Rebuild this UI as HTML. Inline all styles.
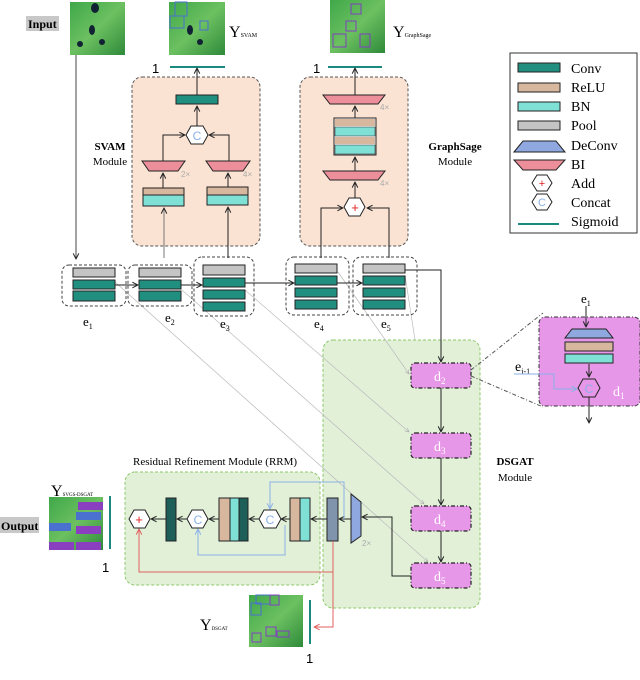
<!DOCTYPE html>
<html><head><meta charset="utf-8"><style>
html,body{margin:0;padding:0;background:#fff;}
svg{display:block;font-family:"Liberation Serif",serif;}
</style></head><body>
<svg width="640" height="680" viewBox="0 0 640 680" xmlns="http://www.w3.org/2000/svg">
<defs>
<marker id="a" viewBox="0 0 10 10" refX="9" refY="5" markerWidth="7" markerHeight="7" orient="auto-start-reverse"><path d="M1,1 L9,5 L1,9" fill="none" stroke="#222" stroke-width="1.4"/></marker>
<marker id="g" viewBox="0 0 10 10" refX="9" refY="5" markerWidth="7" markerHeight="7" orient="auto"><path d="M1,1 L9,5 L1,9" fill="none" stroke="#aaa" stroke-width="1.2"/></marker>
<marker id="r" viewBox="0 0 10 10" refX="9" refY="5" markerWidth="7" markerHeight="7" orient="auto"><path d="M1,1 L9,5 L1,9" fill="none" stroke="#e06060" stroke-width="1.4"/></marker>
<marker id="b" viewBox="0 0 10 10" refX="9" refY="5" markerWidth="7" markerHeight="7" orient="auto"><path d="M1,1 L9,5 L1,9" fill="none" stroke="#8ab0e8" stroke-width="1.4"/></marker>
<linearGradient id="img" x1="0" y1="0" x2="1" y2="1"><stop offset="0" stop-color="#3fa84a"/><stop offset="0.5" stop-color="#6cc060"/><stop offset="1" stop-color="#2e8a3a"/></linearGradient>
</defs>

<!-- module backgrounds -->
<rect x="132" y="77" width="128" height="169" rx="10" fill="#fbe3d3" stroke="#555" stroke-dasharray="3,2"/>
<rect x="300" y="77" width="108" height="169" rx="10" fill="#fbe3d3" stroke="#555" stroke-dasharray="3,2"/>
<rect x="323" y="340" width="157" height="268" rx="10" fill="#e2f0d8" stroke="#8cc86a" stroke-dasharray="3,2"/>
<rect x="125" y="472" width="195" height="113" rx="10" fill="#e2f0d8" stroke="#8cc86a" stroke-dasharray="3,2"/>

<!-- images -->
<rect x="70" y="2" width="55" height="53" fill="url(#img)"/>
<ellipse cx="95" cy="8" rx="4" ry="5" fill="#123"/><ellipse cx="92" cy="30" rx="3" ry="5" fill="#123"/><ellipse cx="102" cy="42" rx="3" ry="3" fill="#123"/><ellipse cx="80" cy="44" rx="3" ry="3" fill="#123"/>
<rect x="169" y="2" width="56" height="53" fill="url(#img)"/>
<rect x="175" y="2" width="12" height="14" fill="none" stroke="#4a70d0"/><rect x="170" y="16" width="14" height="12" fill="none" stroke="#4a70d0"/><rect x="200" y="21" width="8" height="9" fill="none" stroke="#4a70d0"/>
<ellipse cx="190" cy="30" rx="3" ry="5" fill="#123"/><ellipse cx="200" cy="42" rx="3" ry="3" fill="#123"/>
<rect x="330" y="0" width="55" height="53" fill="url(#img)"/>
<rect x="351" y="4" width="10" height="10" fill="none" stroke="#8040c0"/><rect x="346" y="21" width="10" height="10" fill="none" stroke="#8040c0"/><rect x="333" y="34" width="13" height="13" fill="none" stroke="#8040c0"/><rect x="360" y="34" width="10" height="13" fill="none" stroke="#8040c0"/>
<rect x="49" y="497" width="54" height="53" fill="url(#img)"/>
<rect x="78" y="502" width="25" height="8" fill="#8a3fc0"/><rect x="76" y="512" width="25" height="8" fill="#4a70d0"/><rect x="49" y="523" width="22" height="8" fill="#4a70d0"/><rect x="76" y="526" width="25" height="8" fill="#8a3fc0"/><rect x="49" y="542" width="25" height="8" fill="#8a3fc0"/><rect x="76" y="542" width="25" height="8" fill="#8a3fc0"/>
<rect x="249" y="595" width="54" height="52" fill="url(#img)"/>
<rect x="256" y="595" width="14" height="9" fill="none" stroke="#4a70d0"/><rect x="270" y="595" width="9" height="10" fill="none" stroke="#8040c0"/><rect x="251" y="603" width="10" height="12" fill="none" stroke="#4a70d0"/><rect x="252" y="633" width="9" height="9" fill="none" stroke="#8040c0"/><rect x="266" y="627" width="10" height="9" fill="none" stroke="#8040c0"/><rect x="277" y="631" width="12" height="6" fill="none" stroke="#8040c0"/>

<!-- labels top -->
<rect x="26" y="16" width="33" height="15" fill="#c8c8c8"/>
<text x="28" y="28" font-size="12" font-weight="bold">Input</text>
<text x="229" y="37" font-size="16">Y<tspan font-size="6">SVAM</tspan></text>
<text x="393" y="37" font-size="16">Y<tspan font-size="6">GraphSage</tspan></text>
<text x="152" y="73" font-family="Liberation Sans" font-size="13">1</text>
<line x1="170" y1="67" x2="225" y2="67" stroke="#1a8a80" stroke-width="2"/>
<text x="313" y="73" font-family="Liberation Sans" font-size="13">1</text>
<line x1="328" y1="67" x2="382" y2="67" stroke="#1a8a80" stroke-width="2"/>
<text x="110" y="150" font-size="11" font-weight="bold" text-anchor="middle">SVAM</text>
<text x="110" y="165" font-size="11" text-anchor="middle">Module</text>
<text x="455" y="150" font-size="11" font-weight="bold" text-anchor="middle">GraphSage</text>
<text x="455" y="165" font-size="11" text-anchor="middle">Module</text>
<text x="515" y="465" font-size="11" font-weight="bold" text-anchor="middle">DSGAT</text>
<text x="515" y="481" font-size="11" text-anchor="middle">Module</text>

<!-- legend -->
<rect x="510" y="53" width="127" height="180" fill="#fff" stroke="#333"/>
<g font-size="14">
<rect x="518" y="63" width="42" height="9" fill="#218f80" stroke="#222"/><text x="571" y="73">Conv</text>
<rect x="518" y="83" width="42" height="9" fill="#d7b89e" stroke="#222"/><text x="571" y="92">ReLU</text>
<rect x="518" y="102" width="42" height="9" fill="#7fe0d6" stroke="#222"/><text x="571" y="111">BN</text>
<rect x="518" y="121" width="42" height="9" fill="#c4c4c4" stroke="#222"/><text x="571" y="130">Pool</text>
<path d="M514,152 L523,141 L556,141 L565,152 Z" fill="#8fa8e0" stroke="#222"/><text x="571" y="150">DeConv</text>
<path d="M514,160 L565,160 L556,170 L523,170 Z" fill="#ec8f9a" stroke="#222"/><text x="571" y="169">BI</text>
<path d="M532,183 L537,175 L547,175 L552,183 L547,191 L537,191 Z" fill="#fff" stroke="#222"/><text x="542" y="187" fill="#e02020" font-size="11" text-anchor="middle" font-family="Liberation Sans">+</text><text x="571" y="188">Add</text>
<path d="M532,202 L537,194 L547,194 L552,202 L547,210 L537,210 Z" fill="#fff" stroke="#222"/><text x="542" y="206" fill="#8ab0e8" font-size="11" text-anchor="middle" font-family="Liberation Sans">C</text><text x="571" y="207">Concat</text>
<line x1="518" y1="224" x2="559" y2="224" stroke="#1a8a80" stroke-width="2"/><text x="571" y="226">Sigmoid</text>
</g>

<!-- SVAM internals -->
<rect x="176" y="95" width="42" height="9" fill="#218f80" stroke="#222"/>
<line x1="197" y1="95" x2="197" y2="68" stroke="#222" marker-end="url(#a)"/>
<line x1="197" y1="126" x2="197" y2="106" stroke="#222" marker-end="url(#a)"/>
<path d="M186,135 L191,126 L203,126 L208,135 L203,144 L191,144 Z" fill="#fff" stroke="#222"/>
<text x="197" y="140" fill="#8ab0e8" font-size="12" text-anchor="middle" font-family="Liberation Sans">C</text>
<path d="M163,161 L163,135 L185,135" fill="none" stroke="#222" marker-end="url(#a)"/>
<path d="M229,161 L229,135 L209,135" fill="none" stroke="#222" marker-end="url(#a)"/>
<path d="M142,161 L185,161 L178,171 L149,171 Z" fill="#ec8f9a" stroke="#222"/>
<path d="M206,161 L250,161 L243,171 L213,171 Z" fill="#ec8f9a" stroke="#222"/>
<text x="181" y="177" font-size="8" fill="#aaa" font-family="Liberation Sans">2×</text>
<text x="243" y="177" font-size="8" fill="#aaa" font-family="Liberation Sans">4×</text>
<rect x="143" y="188" width="41" height="7" fill="#d7b89e" stroke="#222"/><rect x="143" y="195" width="41" height="11" fill="#7fe0d6" stroke="#222"/>
<rect x="207" y="187" width="41" height="8" fill="#d7b89e" stroke="#222"/><rect x="207" y="195" width="41" height="10" fill="#7fe0d6" stroke="#222"/>
<line x1="163" y1="188" x2="163" y2="173" stroke="#222" marker-end="url(#a)"/>
<line x1="228" y1="187" x2="228" y2="173" stroke="#222" marker-end="url(#a)"/>
<line x1="164" y1="258" x2="164" y2="208" stroke="#777" marker-end="url(#a)"/>
<line x1="228" y1="258" x2="228" y2="207" stroke="#222" marker-end="url(#a)"/>

<!-- GraphSage internals -->
<line x1="355" y1="95" x2="355" y2="68" stroke="#222" marker-end="url(#a)"/>
<path d="M323,95 L385,95 L378,104 L330,104 Z" fill="#ec8f9a" stroke="#222"/>
<text x="380" y="110" font-size="8" fill="#aaa" font-family="Liberation Sans">4×</text>
<line x1="355" y1="118" x2="355" y2="106" stroke="#222" marker-end="url(#a)"/>
<rect x="334" y="118" width="42" height="37" fill="#fff" stroke="#222"/>
<rect x="335" y="119" width="40" height="7" fill="#d7b89e"/><rect x="335" y="127" width="40" height="9" fill="#7fe0d6" stroke="#222" stroke-width="0.5"/><rect x="335" y="137" width="40" height="7" fill="#d7b89e"/><rect x="335" y="145" width="40" height="9" fill="#7fe0d6" stroke="#222" stroke-width="0.5"/>
<line x1="355" y1="171" x2="355" y2="157" stroke="#222" marker-end="url(#a)"/>
<path d="M323,171 L385,171 L378,180 L330,180 Z" fill="#ec8f9a" stroke="#222"/>
<text x="380" y="186" font-size="8" fill="#aaa" font-family="Liberation Sans">4×</text>
<line x1="355" y1="198" x2="355" y2="182" stroke="#222" marker-end="url(#a)"/>
<path d="M344,207 L349,198 L360,198 L365,207 L360,216 L349,216 Z" fill="#fff" stroke="#222"/>
<text x="355" y="212" fill="#e02020" font-size="13" text-anchor="middle" font-family="Liberation Sans">+</text>
<path d="M321,258 L321,208 L343,208" fill="none" stroke="#222" marker-end="url(#a)"/>
<path d="M389,258 L389,208 L367,208" fill="none" stroke="#222" marker-end="url(#a)"/>

<!-- diagonal gray skip lines -->
<g stroke="#bbb" stroke-width="0.7" fill="none">
<line x1="115" y1="282" x2="428" y2="562" marker-end="url(#g)"/>
<line x1="182" y1="290" x2="424" y2="504" marker-end="url(#g)"/>
<line x1="245" y1="290" x2="409" y2="432" marker-end="url(#g)"/>
<line x1="338" y1="272" x2="409" y2="374" marker-end="url(#g)"/>
<line x1="405" y1="275" x2="415" y2="340"/>
</g>

<!-- encoders -->
<line x1="76" y1="55" x2="76" y2="259" stroke="#444" marker-end="url(#a)"/>
<g stroke="#444" fill="none" stroke-dasharray="3,2">
<rect x="62" y="265" width="64" height="41" rx="7"/>
<rect x="128" y="265" width="64" height="41" rx="7"/>
<rect x="194" y="257" width="60" height="59" rx="8"/>
<rect x="286" y="257" width="63" height="58" rx="8"/>
<rect x="353" y="257" width="64" height="58" rx="8"/>
</g>
<g stroke="#222">
<rect x="73" y="268" width="42" height="9" fill="#c4c4c4"/><rect x="73" y="280" width="42" height="9" fill="#218f80"/><rect x="73" y="291" width="42" height="10" fill="#218f80"/>
<rect x="139" y="268" width="42" height="9" fill="#c4c4c4"/><rect x="139" y="280" width="42" height="9" fill="#218f80"/><rect x="139" y="291" width="42" height="10" fill="#218f80"/>
<rect x="203" y="265" width="42" height="10" fill="#c4c4c4"/><rect x="203" y="278" width="42" height="9" fill="#218f80"/><rect x="203" y="290" width="42" height="9" fill="#218f80"/><rect x="203" y="302" width="42" height="9" fill="#218f80"/>
<rect x="295" y="264" width="42" height="9" fill="#c4c4c4"/><rect x="295" y="276" width="42" height="9" fill="#218f80"/><rect x="295" y="288" width="42" height="9" fill="#218f80"/><rect x="295" y="300" width="42" height="9" fill="#218f80"/>
<rect x="363" y="264" width="42" height="9" fill="#c4c4c4"/><rect x="363" y="276" width="42" height="9" fill="#218f80"/><rect x="363" y="288" width="42" height="9" fill="#218f80"/><rect x="363" y="300" width="42" height="9" fill="#218f80"/>
</g>
<line x1="115" y1="285" x2="138" y2="285" stroke="#222" marker-end="url(#a)"/>
<line x1="181" y1="285" x2="202" y2="285" stroke="#222" marker-end="url(#a)"/>
<line x1="245" y1="283" x2="294" y2="283" stroke="#222" marker-end="url(#a)"/>
<line x1="337" y1="283" x2="362" y2="283" stroke="#222" marker-end="url(#a)"/>
<g font-size="13">
<text x="83" y="326">e<tspan font-size="8" dy="3">1</tspan></text>
<text x="165" y="322">e<tspan font-size="8" dy="3">2</tspan></text>
<text x="220" y="328">e<tspan font-size="8" dy="3">3</tspan></text>
<text x="314" y="328">e<tspan font-size="8" dy="3">4</tspan></text>
<text x="381" y="328">e<tspan font-size="8" dy="3">5</tspan></text>
</g>

<!-- decoder column -->
<path d="M405,270 L441,270 L441,362" fill="none" stroke="#222" marker-end="url(#a)"/>
<g fill="#e797e8" stroke="#222" stroke-dasharray="4,2,1,2" stroke-width="1.2">
<rect x="411" y="363" width="60" height="25" rx="4"/>
<rect x="411" y="433" width="60" height="25" rx="4"/>
<rect x="411" y="506" width="60" height="25" rx="4"/>
<rect x="411" y="563" width="60" height="25" rx="4"/>
</g>
<g fill="#fff" font-size="14">
<text x="434" y="381">d<tspan font-size="9" dy="3">2</tspan></text>
<text x="434" y="451">d<tspan font-size="9" dy="3">3</tspan></text>
<text x="434" y="524">d<tspan font-size="9" dy="3">4</tspan></text>
<text x="434" y="581">d<tspan font-size="9" dy="3">5</tspan></text>
</g>
<line x1="441" y1="388" x2="441" y2="432" stroke="#222" marker-end="url(#a)"/>
<line x1="441" y1="458" x2="441" y2="505" stroke="#222" marker-end="url(#a)"/>
<line x1="441" y1="531" x2="441" y2="562" stroke="#222" marker-end="url(#a)"/>

<!-- d1 detail -->
<line x1="471" y1="370" x2="543" y2="313" stroke="#555" stroke-dasharray="4,2,1,2"/>
<line x1="471" y1="376" x2="543" y2="407" stroke="#555" stroke-dasharray="4,2,1,2"/>
<rect x="539" y="317" width="101" height="89" rx="6" fill="#e797e8" stroke="#333" stroke-dasharray="4,2,1,2"/>
<text x="581" y="303" font-size="13">e<tspan font-size="8" dy="3">1</tspan></text>
<line x1="586" y1="306" x2="586" y2="327" stroke="#222" marker-end="url(#a)"/>
<path d="M565,338 L572,329 L606,329 L613,338 Z" fill="#8fa8e0" stroke="#222"/>
<rect x="565" y="342" width="48" height="9" fill="#d7b89e" stroke="#222"/>
<rect x="565" y="354" width="48" height="9" fill="#7fe0d6" stroke="#222"/>
<line x1="589" y1="364" x2="589" y2="377" stroke="#222" marker-end="url(#a)"/>
<path d="M578,388 L583,379 L595,379 L600,388 L595,397 L583,397 Z" fill="#e797e8" stroke="#222"/>
<text x="589" y="393" fill="#8ab0e8" font-size="12" text-anchor="middle" font-family="Liberation Sans">C</text>
<text x="515" y="371" font-size="14">e<tspan font-size="8" dy="3">i-1</tspan></text>
<path d="M514,374 L554,374 L554,389 L577,389" fill="none" stroke="#8ab0e8" marker-end="url(#b)"/>
<text x="613" y="396" font-size="14" fill="#fff">d<tspan font-size="9" dy="3">1</tspan></text>
<line x1="589" y1="397" x2="589" y2="423" stroke="#222" marker-end="url(#a)"/>

<!-- RRM -->
<text x="133" y="465" font-size="11">Residual Refinement Module (RRM)</text>
<path d="M411,576 L392,576 L392,517 L362,517" fill="none" stroke="#222" marker-end="url(#a)"/>
<path d="M351,494 L361,502 L361,536 L351,543 Z" fill="#8fa8e0" stroke="#222"/>
<text x="362" y="546" font-size="8" fill="#aaa" font-family="Liberation Sans">2×</text>
<line x1="351" y1="519" x2="339" y2="519" stroke="#222" marker-end="url(#a)"/>
<rect x="327" y="498" width="11" height="43" fill="#8094ac" stroke="#222"/>
<line x1="327" y1="519" x2="311" y2="519" stroke="#222" marker-end="url(#a)"/>
<rect x="290" y="498" width="10" height="43" fill="#d7b89e" stroke="#222"/><rect x="300" y="498" width="10" height="43" fill="#7fe0d6" stroke="#222"/>
<line x1="290" y1="519" x2="281" y2="519" stroke="#222" marker-end="url(#a)"/>
<path d="M259,519 L264,510 L276,510 L281,519 L276,528 L264,528 Z" fill="#fff" stroke="#222"/>
<text x="270" y="524" fill="#8ab0e8" font-size="12" text-anchor="middle" font-family="Liberation Sans">C</text>
<line x1="259" y1="519" x2="249" y2="519" stroke="#222" marker-end="url(#a)"/>
<rect x="219" y="498" width="11" height="43" fill="#d7b89e" stroke="#222"/><rect x="230" y="498" width="9" height="43" fill="#7fe0d6" stroke="#222"/><rect x="239" y="498" width="9" height="43" fill="#1e5e58" stroke="#222"/>
<line x1="219" y1="519" x2="209" y2="519" stroke="#222" marker-end="url(#a)"/>
<path d="M187,519 L192,510 L203,510 L208,519 L203,528 L192,528 Z" fill="#fff" stroke="#222"/>
<text x="198" y="524" fill="#8ab0e8" font-size="12" text-anchor="middle" font-family="Liberation Sans">C</text>
<line x1="187" y1="519" x2="177" y2="519" stroke="#222" marker-end="url(#a)"/>
<rect x="166" y="498" width="10" height="43" fill="#1e5e58" stroke="#222"/>
<line x1="166" y1="519" x2="151" y2="519" stroke="#222" marker-end="url(#a)"/>
<path d="M129,519 L134,510 L145,510 L150,519 L145,528 L134,528 Z" fill="#fff" stroke="#222"/>
<text x="139" y="524" fill="#e02020" font-size="13" text-anchor="middle" font-family="Liberation Sans">+</text>
<path d="M344,519 L344,482 L270,482 L270,509" fill="none" stroke="#8ab0e8" marker-end="url(#b)"/>
<path d="M285,525 L285,555 L198,555 L198,529" fill="none" stroke="#8ab0e8" marker-end="url(#b)"/>
<path d="M333,541 L333,572 L139,572 L139,529" fill="none" stroke="#e06060" marker-end="url(#r)"/>
<path d="M333,572 L333,627 L314,627" fill="none" stroke="#e06060" marker-end="url(#r)"/>

<!-- outputs -->
<rect x="0" y="517" width="39" height="16" fill="#c8c8c8"/>
<text x="1" y="530" font-size="12" font-weight="bold">Output</text>
<text x="51" y="496" font-size="16">Y<tspan font-size="5">SVGS-DSGAT</tspan></text>
<line x1="110" y1="496" x2="110" y2="549" stroke="#1a8a80" stroke-width="2"/>
<text x="102" y="572" font-family="Liberation Sans" font-size="13">1</text>
<text x="200" y="630" font-size="16">Y<tspan font-size="5">DSGAT</tspan></text>
<line x1="310" y1="600" x2="310" y2="644" stroke="#1a8a80" stroke-width="2"/>
<text x="306" y="663" font-family="Liberation Sans" font-size="13">1</text>
</svg>
</body></html>
